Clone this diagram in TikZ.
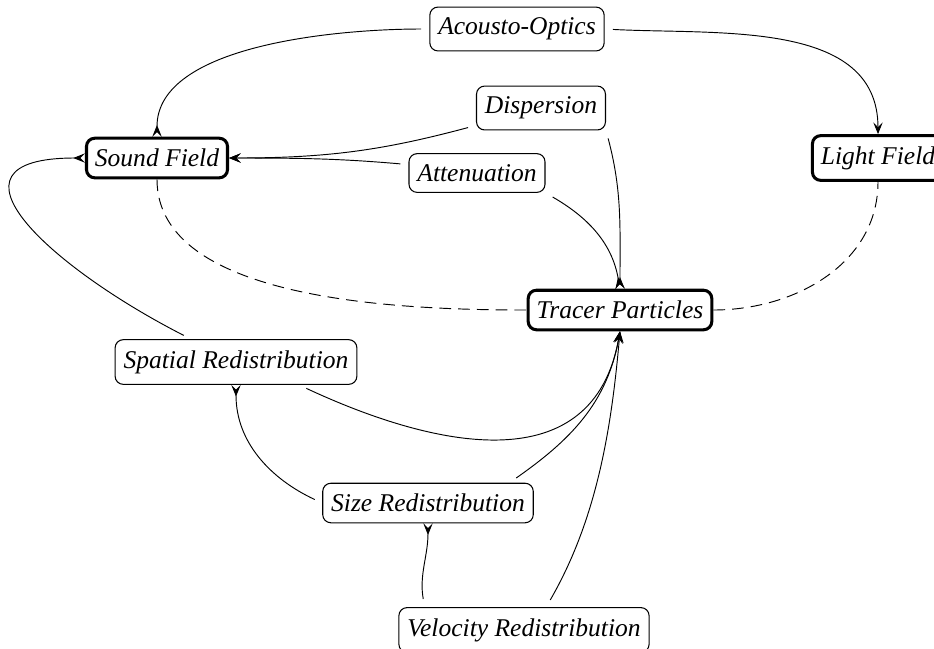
\documentclass[tikz,border=0pt]{standalone}
\usepackage{fontspec}
\setmainfont{Liberation Serif}
\usetikzlibrary{arrows.meta,calc,positioning}
\tikzset{
    x=0.015cm, y=0.015cm, line width=0.5pt,
    state/.style ={rectangle, rounded corners=3.5pt, draw, line width=0.45pt, inner xsep=3.6pt, inner ysep=4.6pt,
        font=\fontsize{10.9}{12}\selectfont\itshape},
    main/.style = {state, line width=1.3pt},
    into/.style = {-{Stealth[length=5pt,width=4pt,inset=2pt]}, shorten <=3.5pt},
    outof/.style = {{Stealth[length=5pt,width=4pt,inset=2pt,reversed]}-, shorten >=3.5pt},
    link/.style = {dash pattern=on 5pt off 3pt}
}
\begin{document}
\begin{tikzpicture}
    \useasboundingbox (0,0) rectangle (934,-648);

    \node[state] (ao) at (517,-29) {Acousto-Optics};
    \node[state] (disp) at (541,-108) {Dispersion};
    \node[main] (sound) at (157,-158) {Sound Field};
    \node[state] (att) at (477,-173) {Attenuation};
    \node[main] (light) at (878,-158) {Light Field};
    \node[main] (tracer) at (620,-310) {Tracer Particles};
    \node[state] (spatial) at (236,-362) {Spatial Redistribution};
    \node[state] (size) at (428,-503) {Size Redistribution};
    \node[state] (velo) at (524,-630) {Velocity Redistribution};

    \path (sound.north) edge[outof, out=90, in=180, looseness=0.8] (ao.west);
    \path (ao.east) edge[into, out=-3, in=90] (light.north);
    \path (disp.195) edge[into, out=195, in=0] (sound.east);
    \path (att.173) edge[into, out=175, in=0] (sound.east);
    \path (tracer.north) edge[outof, out=90, in=-75] (disp.south east);
    \path (tracer.north) edge[outof, out=100, in=-30] (att.south east);

    \path (sound.south) edge[link, out=-90, in=180, looseness=0.8] (tracer.west);
    \path (tracer.east) edge[link, out=0, in=-90] (light.south);

    \path (sound.west) edge[outof, out=180, in=153, looseness=1.9] (spatial);
    \path (spatial.-20) edge[into, out=-25, in=-100, looseness=1.2] (tracer.south);
    \path (spatial.south) edge[outof, out=-90, in=155] (size.west);
    \path (size.14) edge[into, out=35, in=-100] (tracer.south);
    \path (size.south) edge[outof, out=-90, in=100] (velo.167);
    \path (velo.46) edge[into, out=60, in=-95, looseness=0.9] (tracer.south);
\end{tikzpicture}
\end{document}
